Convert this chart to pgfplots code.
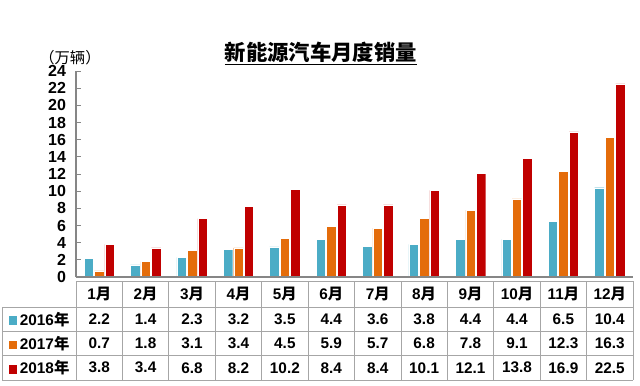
\documentclass[border=0pt]{standalone}
\usepackage{pgfplots}
\pgfplotsset{compat=1.18}
\usepackage{fontspec}
\setmainfont{Liberation Sans}
\newfontfamily\cjk{Noto Sans CJK SC}
\definecolor{c16}{HTML}{4BACC6}
\definecolor{c17}{HTML}{E46C0A}
\definecolor{c18}{HTML}{C00000}
\definecolor{gridc}{HTML}{A6A6A6}
\definecolor{axc}{HTML}{868686}
\newcommand{\tf}{\bfseries\fontsize{11.5}{12}\selectfont}
\begin{document}
\begin{tikzpicture}
\path[use as bounding box] (-57pt,-81.75pt) rectangle (423pt,207.75pt);
\begin{axis}[
  at={(0,0)}, anchor=south west,
  scale only axis, width=417.75pt, height=154.5pt,
  xmin=-0.5, xmax=11.5, ymin=0, ymax=24,
  axis on top,
  axis lines=left, axis line style={-, draw=axc, line width=0.8pt},
  xtick=\empty,
  ytick={0,2,...,24},
  tick align=inside, major tick length=3.75pt,
  ytick style={draw=axc, line width=0.6pt},
  /pgf/number format/assume math mode=true,
  yticklabel style={font=\bfseries\fontsize{12}{12}\selectfont, xshift=-4pt},
  ybar=0.75pt, bar width=7.1pt,
  clip=false,
]
\addplot[fill=c16, draw=white, line width=0.3pt] coordinates {(0,2.2) (1,1.4) (2,2.3) (3,3.2) (4,3.5) (5,4.4) (6,3.6) (7,3.8) (8,4.4) (9,4.4) (10,6.5) (11,10.4)};
\addplot[fill=c17, draw=white, line width=0.3pt] coordinates {(0,0.7) (1,1.8) (2,3.1) (3,3.4) (4,4.5) (5,5.9) (6,5.7) (7,6.8) (8,7.8) (9,9.1) (10,12.3) (11,16.3)};
\addplot[fill=c18, draw=white, line width=0.3pt] coordinates {(0,3.8) (1,3.4) (2,6.8) (3,8.2) (4,10.2) (5,8.4) (6,8.4) (7,10.1) (8,12.1) (9,13.8) (10,16.9) (11,22.5)};

% title and unit
\node at (axis cs:4.774,26.0) {\cjk\bfseries\fontsize{16}{16}\selectfont\underline{新能源汽车月度销量}};
\node at (axis cs:-0.63,25.5) {\cjk\fontsize{11.5}{12}\selectfont （万辆）};

% table grid
\draw[gridc, line width=0.6pt] (axis cs:-0.5,-0.466) -- (axis cs:11.5,-0.466);
\draw[gridc, line width=0.6pt] (axis cs:-2.094,-3.495) -- (axis cs:11.5,-3.495);
\draw[gridc, line width=0.6pt] (axis cs:-2.094,-6.35) -- (axis cs:11.5,-6.35);
\draw[gridc, line width=0.6pt] (axis cs:-2.094,-9.146) -- (axis cs:11.5,-9.146);
\draw[gridc, line width=0.6pt] (axis cs:-2.094,-12.0) -- (axis cs:11.5,-12.0);
\draw[gridc, line width=0.6pt] (axis cs:-2.094,-3.495) -- (axis cs:-2.094,-12.0);
\pgfplotsinvokeforeach{-0.5,0.5,1.5,2.5,3.5,4.5,5.5,6.5,7.5,8.5,9.5,10.5,11.5}{
  \draw[gridc, line width=0.6pt] (axis cs:#1,-0.466) -- (axis cs:#1,-12.0);
}

% header
\node[font=\tf] at (axis cs:0,-1.98) {1{\cjk 月}};
\node[font=\tf] at (axis cs:1,-1.98) {2{\cjk 月}};
\node[font=\tf] at (axis cs:2,-1.98) {3{\cjk 月}};
\node[font=\tf] at (axis cs:3,-1.98) {4{\cjk 月}};
\node[font=\tf] at (axis cs:4,-1.98) {5{\cjk 月}};
\node[font=\tf] at (axis cs:5,-1.98) {6{\cjk 月}};
\node[font=\tf] at (axis cs:6,-1.98) {7{\cjk 月}};
\node[font=\tf] at (axis cs:7,-1.98) {8{\cjk 月}};
\node[font=\tf] at (axis cs:8,-1.98) {9{\cjk 月}};
\node[font=\tf] at (axis cs:9,-1.98) {10{\cjk 月}};
\node[font=\tf] at (axis cs:10,-1.98) {11{\cjk 月}};
\node[font=\tf] at (axis cs:11,-1.98) {12{\cjk 月}};

% legend column
\node[font=\tf] at (axis cs:-1.297,-4.92) {\textcolor{c16}{\rule{6.5pt}{6.5pt}}\,2016{\cjk 年}};
\node[font=\tf] at (axis cs:-1.297,-7.75) {\textcolor{c17}{\rule{6.5pt}{6.5pt}}\,2017{\cjk 年}};
\node[font=\tf] at (axis cs:-1.297,-10.57) {\textcolor{c18}{\rule{6.5pt}{6.5pt}}\,2018{\cjk 年}};

% 2016 row
\node[font=\tf] at (axis cs:0,-4.92) {2.2};
\node[font=\tf] at (axis cs:1,-4.92) {1.4};
\node[font=\tf] at (axis cs:2,-4.92) {2.3};
\node[font=\tf] at (axis cs:3,-4.92) {3.2};
\node[font=\tf] at (axis cs:4,-4.92) {3.5};
\node[font=\tf] at (axis cs:5,-4.92) {4.4};
\node[font=\tf] at (axis cs:6,-4.92) {3.6};
\node[font=\tf] at (axis cs:7,-4.92) {3.8};
\node[font=\tf] at (axis cs:8,-4.92) {4.4};
\node[font=\tf] at (axis cs:9,-4.92) {4.4};
\node[font=\tf] at (axis cs:10,-4.92) {6.5};
\node[font=\tf] at (axis cs:11,-4.92) {10.4};
% 2017 row
\node[font=\tf] at (axis cs:0,-7.75) {0.7};
\node[font=\tf] at (axis cs:1,-7.75) {1.8};
\node[font=\tf] at (axis cs:2,-7.75) {3.1};
\node[font=\tf] at (axis cs:3,-7.75) {3.4};
\node[font=\tf] at (axis cs:4,-7.75) {4.5};
\node[font=\tf] at (axis cs:5,-7.75) {5.9};
\node[font=\tf] at (axis cs:6,-7.75) {5.7};
\node[font=\tf] at (axis cs:7,-7.75) {6.8};
\node[font=\tf] at (axis cs:8,-7.75) {7.8};
\node[font=\tf] at (axis cs:9,-7.75) {9.1};
\node[font=\tf] at (axis cs:10,-7.75) {12.3};
\node[font=\tf] at (axis cs:11,-7.75) {16.3};
% 2018 row
\node[font=\tf] at (axis cs:0,-10.57) {3.8};
\node[font=\tf] at (axis cs:1,-10.57) {3.4};
\node[font=\tf] at (axis cs:2,-10.57) {6.8};
\node[font=\tf] at (axis cs:3,-10.57) {8.2};
\node[font=\tf] at (axis cs:4,-10.57) {10.2};
\node[font=\tf] at (axis cs:5,-10.57) {8.4};
\node[font=\tf] at (axis cs:6,-10.57) {8.4};
\node[font=\tf] at (axis cs:7,-10.57) {10.1};
\node[font=\tf] at (axis cs:8,-10.57) {12.1};
\node[font=\tf] at (axis cs:9,-10.57) {13.8};
\node[font=\tf] at (axis cs:10,-10.57) {16.9};
\node[font=\tf] at (axis cs:11,-10.57) {22.5};
\end{axis}
\end{tikzpicture}
\end{document}
